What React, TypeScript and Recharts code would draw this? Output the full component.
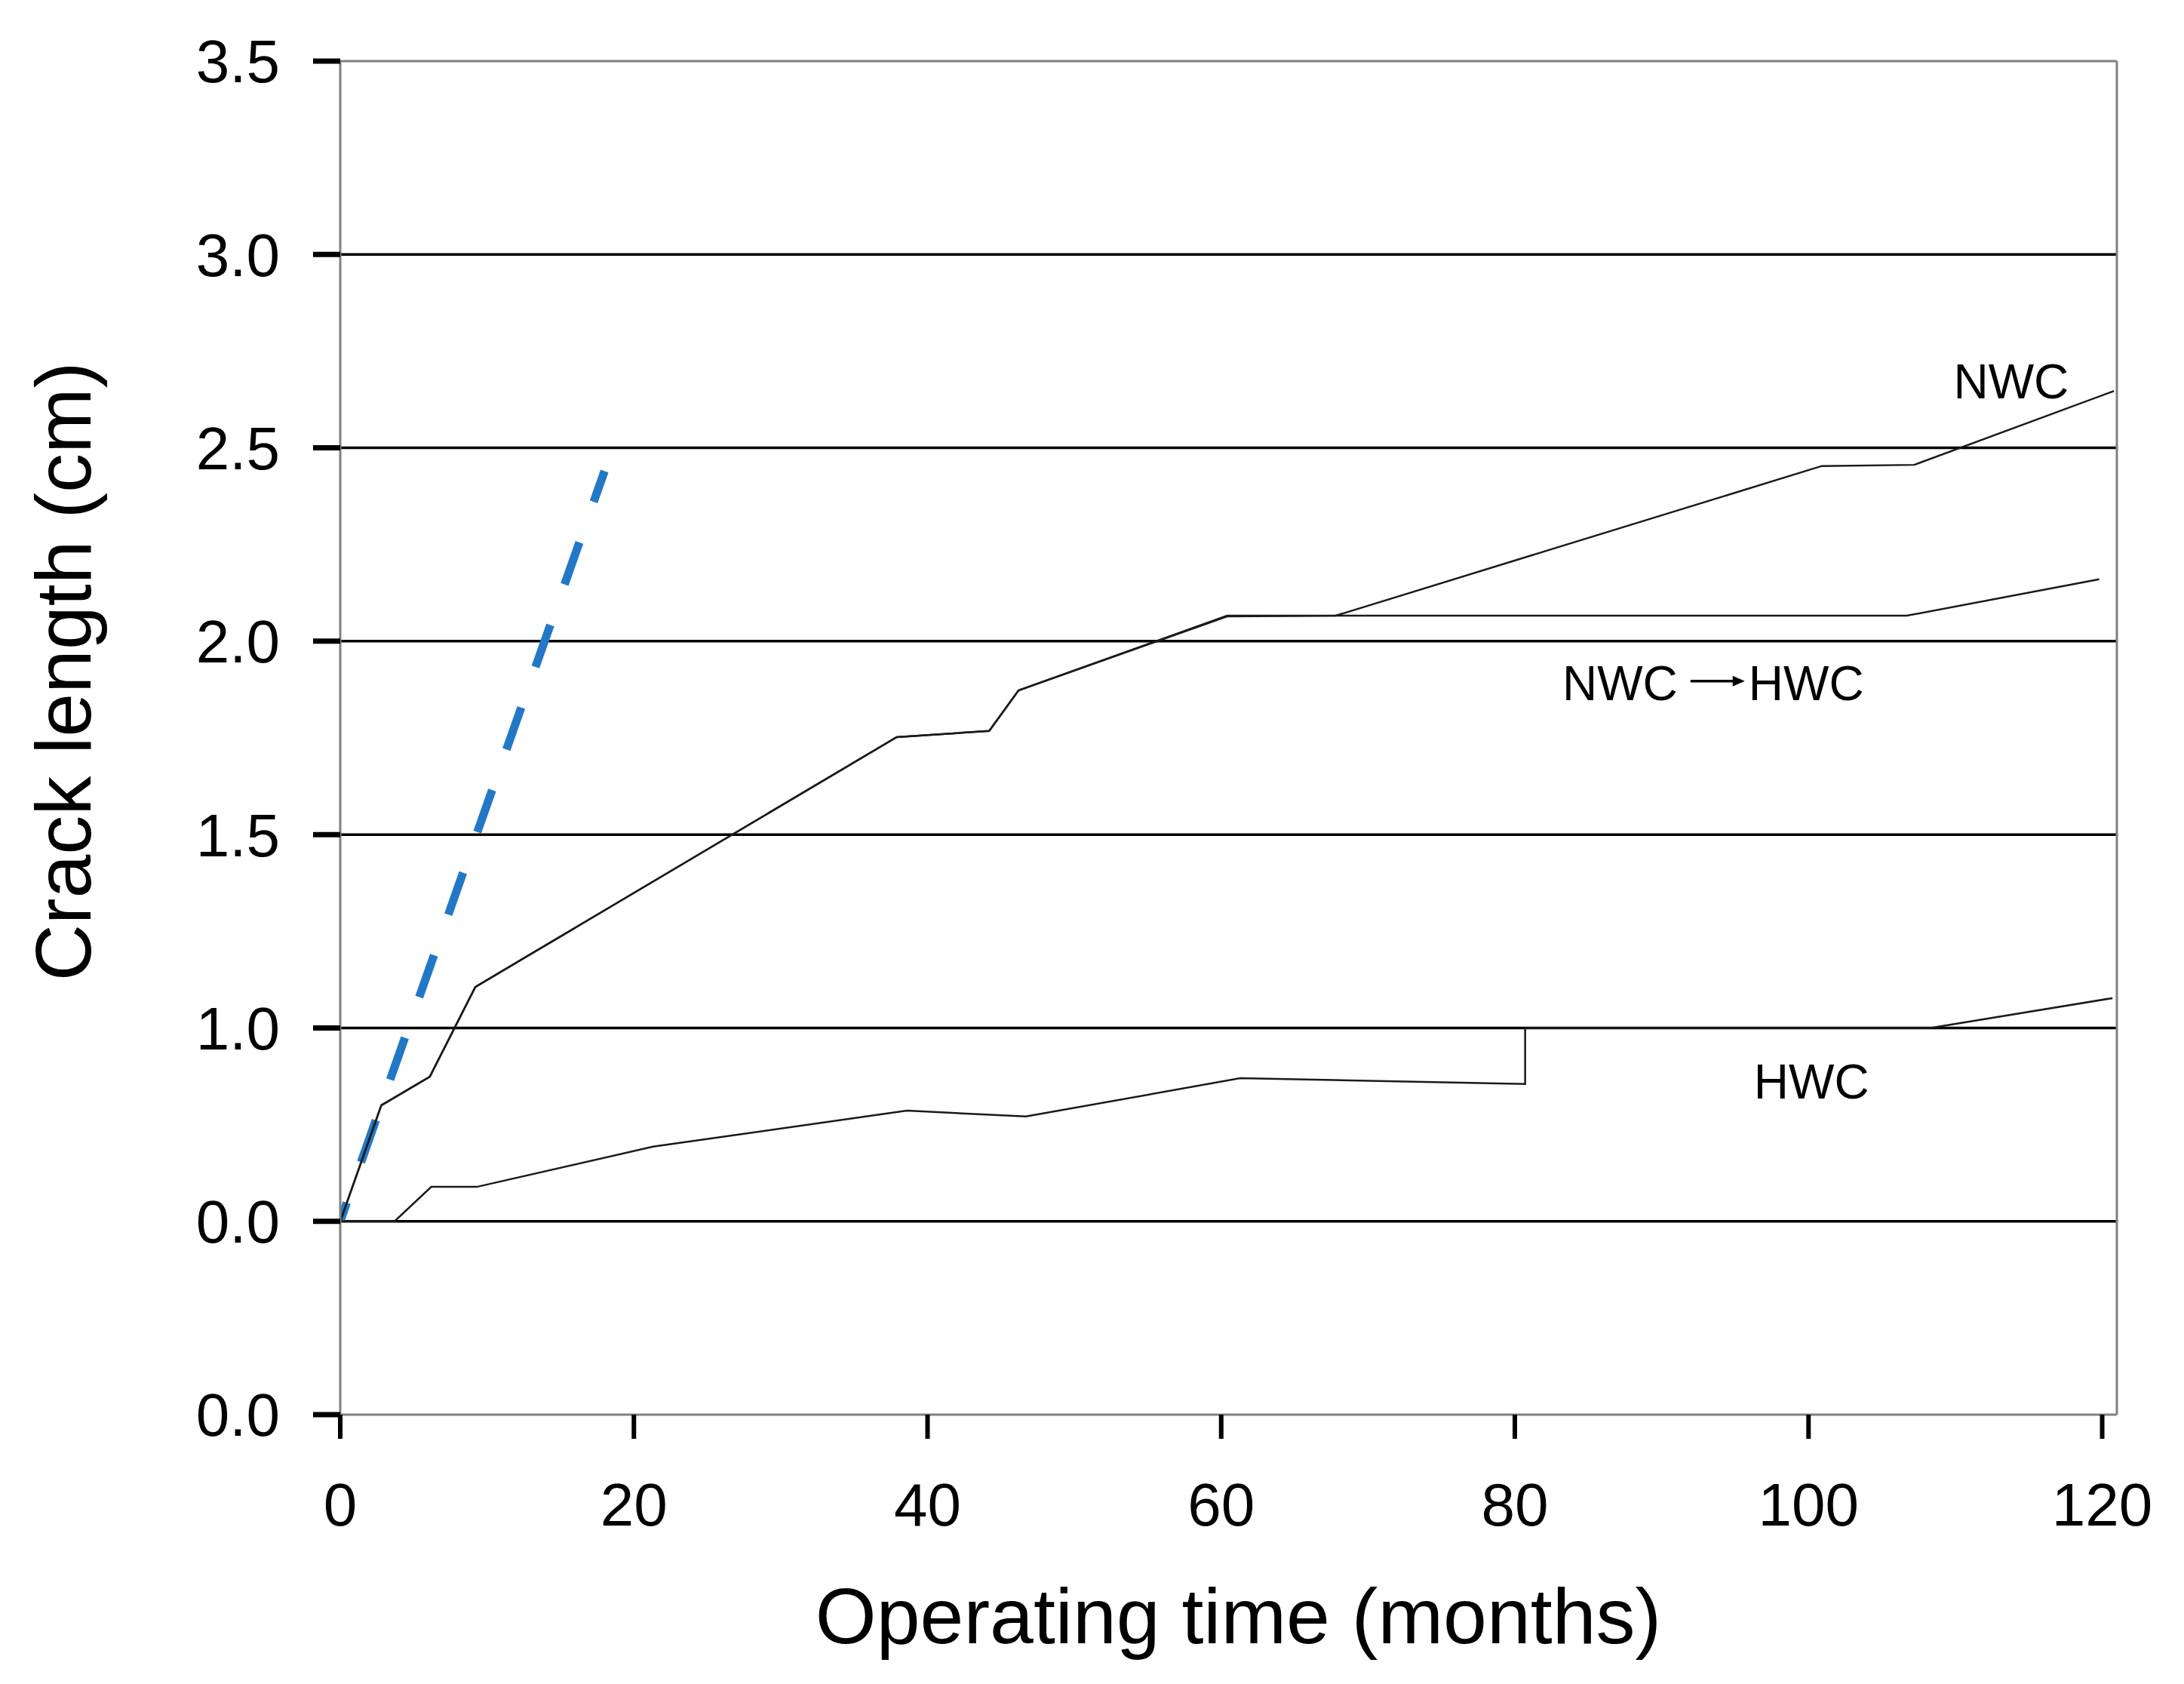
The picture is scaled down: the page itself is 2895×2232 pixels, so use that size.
import React from 'react'
import {
  LineChart,
  Line,
  XAxis,
  YAxis,
  ReferenceLine,
  ReferenceDot,
} from 'recharts'

// NWC curve (months, cm)
const nwcTime = [0, 2.8, 6.1, 9.2, 37.9, 44.2, 46.2, 60.4, 67.8, 100.9, 107.2, 120.8]
const nwcCrack = [0.5, 0.8, 0.874, 1.106, 1.752, 1.768, 1.873, 2.064, 2.066, 2.453, 2.456, 2.647]

// NWC -> HWC curve, follows NWC until ~60 months then flattens
const switchTime = [0, 2.8, 6.1, 9.2, 37.9, 44.2, 46.2, 60.4, 106.7, 119.8]
const switchCrack = [0.5, 0.8, 0.874, 1.106, 1.752, 1.768, 1.873, 2.066, 2.066, 2.16]

// HWC curve
const hwcTime = [0, 3.7, 6.2, 9.3, 21.3, 38.6, 46.7, 61.3, 80.7, 80.7, 108.3, 120.7]
const hwcCrack = [0.5, 0.5, 0.589, 0.589, 0.693, 0.786, 0.771, 0.87, 0.855, 1.0, 1.0, 1.077]

// blue dashed reference line
const refTime = [0, 18.0]
const refCrack = [0.5, 2.44]

const xTicks = [0, 20, 40, 60, 80, 100, 120]
const yTicks = [0, 0.5, 1.0, 1.5, 2.0, 2.5, 3.0, 3.5]
const yTickLabels = ['0.0', '0.0', '1.0', '1.5', '2.0', '2.5', '3.0', '3.5']
const gridValues = [0.5, 1.0, 1.5, 2.0, 2.5, 3.0]

const annotations = [
  { t: 113.8, v: 2.628, text: 'NWC' },
  { t: 100.2, v: 0.818, text: 'HWC' },
]
const transition = { t: 93.5, v: 1.848, from: 'NWC', to: 'HWC' }

const zip = (ts: number[], vs: number[]) => ts.map((t, i) => ({ t, v: vs[i] }))

const FONT = '"Liberation Sans", Arial, sans-serif'
const FRAME = '#808080'

const annotationLabel = (text: string) => (props: any) => {
  const vb = props.viewBox
  return (
    <text
      x={vb.x + vb.width / 2}
      y={vb.y + vb.height / 2}
      textAnchor="middle"
      fontFamily={FONT}
      fontSize={64}
      fill="#000"
    >
      {text}
    </text>
  )
}

// "NWC -> HWC" with a short drawn arrow between the two words
const transitionLabel = (props: any) => {
  const vb = props.viewBox
  const cx = vb.x + vb.width / 2
  const cy = vb.y + vb.height / 2
  const ay = cy - 25
  return (
    <g>
      <text x={cx - 47} y={cy} textAnchor="end" fontFamily={FONT} fontSize={64} fill="#000">
        {transition.from}
      </text>
      <line x1={cx - 30} y1={ay} x2={cx + 28} y2={ay} stroke="#000" strokeWidth={3.5} />
      <polygon
        points={`${cx + 42},${ay} ${cx + 26},${ay - 7} ${cx + 26},${ay + 7}`}
        fill="#000"
      />
      <text x={cx + 47} y={cy} textAnchor="start" fontFamily={FONT} fontSize={64} fill="#000">
        {transition.to}
      </text>
    </g>
  )
}

const xTitle = (props: any) => {
  const vb = props.viewBox
  return (
    <text
      x={vb.x + vb.width / 2 + 13}
      y={vb.y + 303}
      textAnchor="middle"
      fontFamily={FONT}
      fontSize={104}
      fill="#000"
    >
      Operating time (months)
    </text>
  )
}

const yTitle = (props: any) => {
  const vb = props.viewBox
  const x = 112
  const y = vb.y + vb.height / 2 - 88
  return (
    <text
      x={x}
      y={y}
      transform={`rotate(-90 ${x} ${y})`}
      textAnchor="middle"
      fontFamily={FONT}
      fontSize={104}
      fill="#000"
    >
      Crack length (cm)
    </text>
  )
}

const CrackChart = () => {
  return (
    <LineChart
      width={2880}
      height={2216}
      margin={{ top: 73, right: 82, bottom: 149, left: 0 }}
    >
      <XAxis
        type="number"
        dataKey="t"
        domain={[0, 121]}
        ticks={xTicks}
        allowDataOverflow
        height={200}
        tickSize={32}
        tickMargin={58}
        axisLine={{ stroke: FRAME, strokeWidth: 3 }}
        tickLine={{ stroke: '#000', strokeWidth: 6 }}
        tick={{ fontSize: 80, fontFamily: FONT, fill: '#000' }}
        label={{ content: xTitle }}
      />
      <YAxis
        type="number"
        dataKey="v"
        domain={[0, 3.5]}
        ticks={yTicks}
        allowDataOverflow
        width={443}
        tickSize={36}
        tickMargin={44}
        axisLine={{ stroke: FRAME, strokeWidth: 3 }}
        tickLine={{ stroke: '#000', strokeWidth: 7 }}
        tick={{ fontSize: 80, fontFamily: FONT, fill: '#000' }}
        tickFormatter={(v: number) => yTickLabels[yTicks.indexOf(v)]}
        label={{ content: yTitle }}
      />
      {gridValues.map((g) => (
        <ReferenceLine key={g} y={g} stroke="#000" strokeWidth={3.5} />
      ))}
      <ReferenceLine y={3.5} stroke={FRAME} strokeWidth={3} />
      <ReferenceLine x={121} stroke={FRAME} strokeWidth={3} />

      <Line
        data={zip(refTime, refCrack)}
        dataKey="v"
        type="linear"
        stroke="#2278c6"
        strokeWidth={11}
        strokeDasharray="59 57"
        strokeDashoffset={33}
        dot={false}
        isAnimationActive={false}
      />
      <Line
        data={zip(hwcTime, hwcCrack)}
        dataKey="v"
        type="linear"
        stroke="#1a1a1a"
        strokeWidth={2.5}
        dot={false}
        isAnimationActive={false}
      />
      <Line
        data={zip(switchTime, switchCrack)}
        dataKey="v"
        type="linear"
        stroke="#1a1a1a"
        strokeWidth={2.5}
        dot={false}
        isAnimationActive={false}
      />
      <Line
        data={zip(nwcTime, nwcCrack)}
        dataKey="v"
        type="linear"
        stroke="#1a1a1a"
        strokeWidth={2.5}
        dot={false}
        isAnimationActive={false}
      />

      {annotations.map((a) => (
        <ReferenceDot
          key={a.text}
          x={a.t}
          y={a.v}
          r={1}
          fill="none"
          stroke="none"
          label={annotationLabel(a.text)}
        />
      ))}
      <ReferenceDot
        x={transition.t}
        y={transition.v}
        r={1}
        fill="none"
        stroke="none"
        label={transitionLabel}
      />
    </LineChart>
  )
}

export default function App() {
  return <CrackChart />
}
